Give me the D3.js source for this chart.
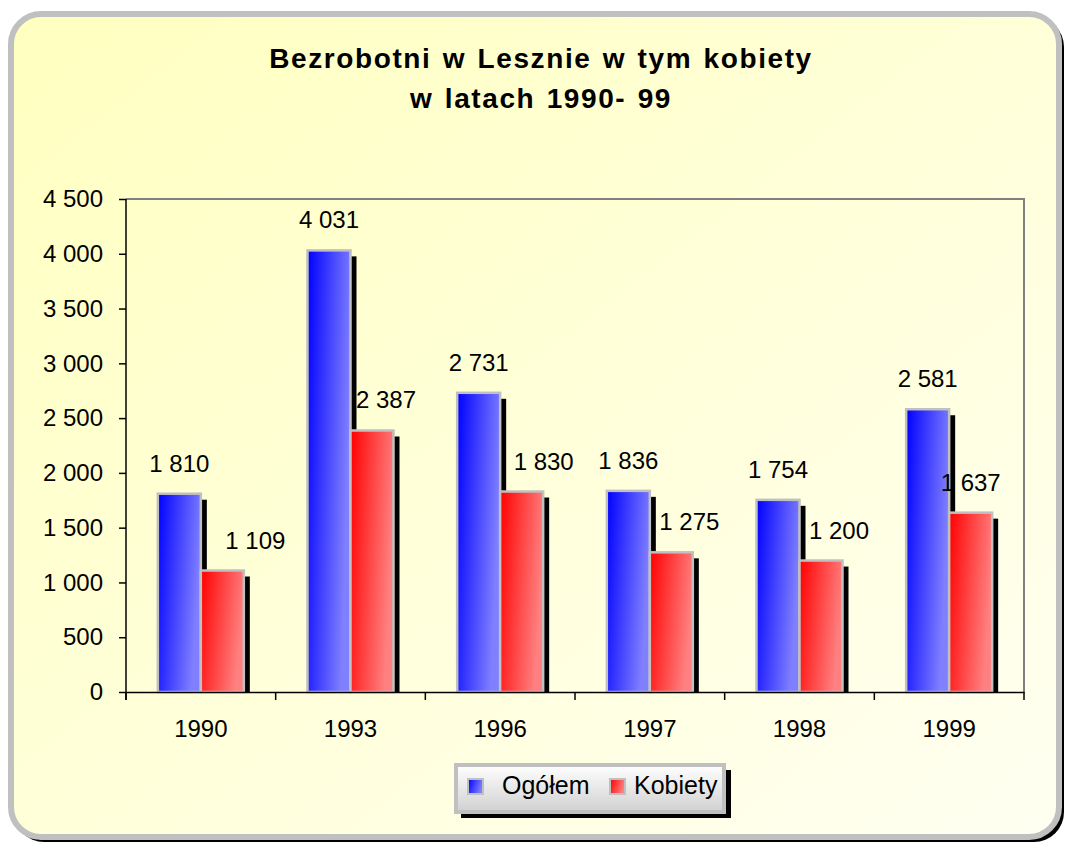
<!DOCTYPE html>
<html>
<head>
<meta charset="utf-8">
<script src="https://cdn.jsdelivr.net/npm/d3@7"></script>
<style>
  body { margin: 0; background: #fff; }
  svg { display: block; font-family: Arial, "Liberation Sans", sans-serif; }
</style>
</head>
<body>
<div id="chart"></div>
<script>
const years = ['1990', '1993', '1996', '1997', '1998', '1999'];
const ogolem = [1810, 4031, 2731, 1836, 1754, 2581];
const kobiety = [1109, 2387, 1830, 1275, 1200, 1637];
const seriesNames = ['Ogółem', 'Kobiety'];
const yTicks = [0, 500, 1000, 1500, 2000, 2500, 3000, 3500, 4000, 4500];

const width = 1065, height = 843;
const margin = { left: 126, top: 199, right: 41, bottom: 151 };
const adjWidth = width - margin.left - margin.right;
const adjHeight = height - margin.top - margin.bottom;
const fontFam = 'Arial, "Liberation Sans", sans-serif';
// hand-moved value labels of the second series in the original
const labelNudge = [[0, 0, 0, 0, 0, 0], [33, 14, 22, 18, 18, 0]];

const fmt = v => d3.format(',')(v).replace(/,/g, ' ');

const svg = d3.select('#chart').append('svg')
  .attr('width', width)
  .attr('height', height);

const defs = svg.append('defs');

let bg = defs.append('linearGradient').attr('id', 'bg')
  .attr('x1', 0).attr('y1', 0).attr('x2', 1).attr('y2', 1);
bg.append('stop').attr('offset', 0).attr('stop-color', '#ffffc0');
bg.append('stop').attr('offset', 1).attr('stop-color', '#fffff2');

function barGrad(id, c0, c1) {
  let g = defs.append('linearGradient').attr('id', id)
    .attr('x1', 0).attr('y1', 0).attr('x2', 1).attr('y2', 0.3);
  g.append('stop').attr('offset', 0).attr('stop-color', c0);
  g.append('stop').attr('offset', 1).attr('stop-color', c1);
}
barGrad('gBlue', '#0000ff', '#8080ff');
barGrad('gRed', '#ff0000', '#ff8080');

let lg = defs.append('linearGradient').attr('id', 'legBg')
  .attr('x1', 0).attr('y1', 0).attr('x2', 0).attr('y2', 1);
lg.append('stop').attr('offset', 0).attr('stop-color', '#ffffff');
lg.append('stop').attr('offset', 1).attr('stop-color', '#d0d0d0');

// frame
svg.append('rect')
  .attr('x', 14).attr('y', 17).attr('width', 1050).attr('height', 825)
  .attr('rx', 30).attr('fill', '#000');
svg.append('rect')
  .attr('x', 11).attr('y', 14).attr('width', 1048).attr('height', 823)
  .attr('rx', 30).attr('fill', 'url(#bg)')
  .attr('stroke', '#c0c0c0').attr('stroke-width', 6);

// title
const title = svg.append('text')
  .attr('x', 541).attr('text-anchor', 'middle')
  .attr('font-size', 28).attr('font-weight', 'bold')
  .attr('letter-spacing', 1.6).attr('word-spacing', 2);
title.append('tspan').attr('x', 541).attr('y', 68).text('Bezrobotni w Lesznie w tym kobiety');
title.append('tspan').attr('x', 541).attr('y', 108).text('w latach 1990- 99');

const g = svg.append('g')
  .attr('transform', 'translate(' + margin.left + ',' + margin.top + ')');

const x = d3.scaleBand().domain(years).range([0, adjWidth]).paddingInner(0).paddingOuter(0);
const y = d3.scaleLinear().domain([0, 4500]).range([adjHeight, 0]);
const bw = 43;
const xs = d3.scaleBand().domain(seriesNames).range([0, bw * 2]);

// plot border top/right
g.append('path')
  .attr('d', 'M0,0H' + adjWidth + 'V' + adjHeight)
  .attr('fill', 'none').attr('stroke', '#808080').attr('stroke-width', 2);

const data = years.map((yr, i) => ({ year: yr, i: i, vals: [ogolem[i], kobiety[i]] }));
const fills = ['url(#gBlue)', 'url(#gRed)'];

const grp = g.selectAll('.grp').data(data).enter().append('g')
  .attr('class', 'grp')
  .attr('transform', d => 'translate(' + (x(d.year) + (x.bandwidth() - bw * 2) / 2) + ',0)');

seriesNames.forEach((s, si) => {
  // shadow
  grp.append('rect')
    .attr('x', xs(s) + bw)
    .attr('y', d => y(d.vals[si]) + 6)
    .attr('width', 6)
    .attr('height', d => adjHeight - y(d.vals[si]) - 6)
    .attr('fill', '#000');
});
seriesNames.forEach((s, si) => {
  grp.append('rect')
    .attr('x', xs(s))
    .attr('y', d => y(d.vals[si]))
    .attr('width', bw)
    .attr('height', d => adjHeight - y(d.vals[si]))
    .attr('fill', fills[si])
    .attr('stroke', '#c0c0c0').attr('stroke-width', 2.5);
});
seriesNames.forEach((s, si) => {
  grp.append('text')
    .attr('x', d => xs(s) + bw / 2 + labelNudge[si][d.i])
    .attr('y', d => y(d.vals[si]) - 22)
    .attr('text-anchor', 'middle')
    .attr('font-size', 24)
    .text(d => fmt(d.vals[si]));
});

// axes
const yAxis = g.append('g')
  .call(d3.axisLeft(y).tickValues(yTicks).tickSize(7).tickPadding(16).tickFormat(fmt));
const xAxis = g.append('g')
  .attr('transform', 'translate(0,' + adjHeight + ')')
  .call(d3.axisBottom(x).tickSize(0).tickPadding(28));

[yAxis, xAxis].forEach(a => {
  a.select('.domain').attr('stroke', '#000').attr('stroke-width', 1.5);
  a.selectAll('text').attr('font-size', 24).attr('fill', '#000')
    .attr('font-family', fontFam);
  a.selectAll('line').attr('stroke', '#000').attr('stroke-width', 1.5);
});
yAxis.select('.domain').attr('d', 'M0,' + (adjHeight + 8) + 'V0');

g.selectAll('.xtick').data(d3.range(years.length + 1)).enter().append('line')
  .attr('class', 'xtick')
  .attr('x1', i => i * x.step()).attr('x2', i => i * x.step())
  .attr('y1', adjHeight).attr('y2', adjHeight + 8)
  .attr('stroke', '#000').attr('stroke-width', 1.5);

// legend
const leg = svg.append('g').attr('transform', 'translate(456,765)');
leg.append('rect').attr('x', 5).attr('y', 5).attr('width', 270).attr('height', 48).attr('fill', '#000');
leg.append('rect').attr('width', 268).attr('height', 47)
  .attr('fill', 'url(#legBg)').attr('stroke', '#c0c0c0').attr('stroke-width', 4);
const items = [
  { name: seriesNames[0], fill: fills[0], x: 12, tx: 46 },
  { name: seriesNames[1], fill: fills[1], x: 154, tx: 178 }
];
items.forEach(it => {
  leg.append('rect').attr('x', it.x).attr('y', 14).attr('width', 15).attr('height', 15)
    .attr('fill', it.fill).attr('stroke', '#c0c0c0').attr('stroke-width', 2);
  leg.append('text').attr('x', it.tx).attr('y', 29).attr('font-size', 25)
    .attr('font-family', fontFam).text(it.name);
});
</script>
</body>
</html>
